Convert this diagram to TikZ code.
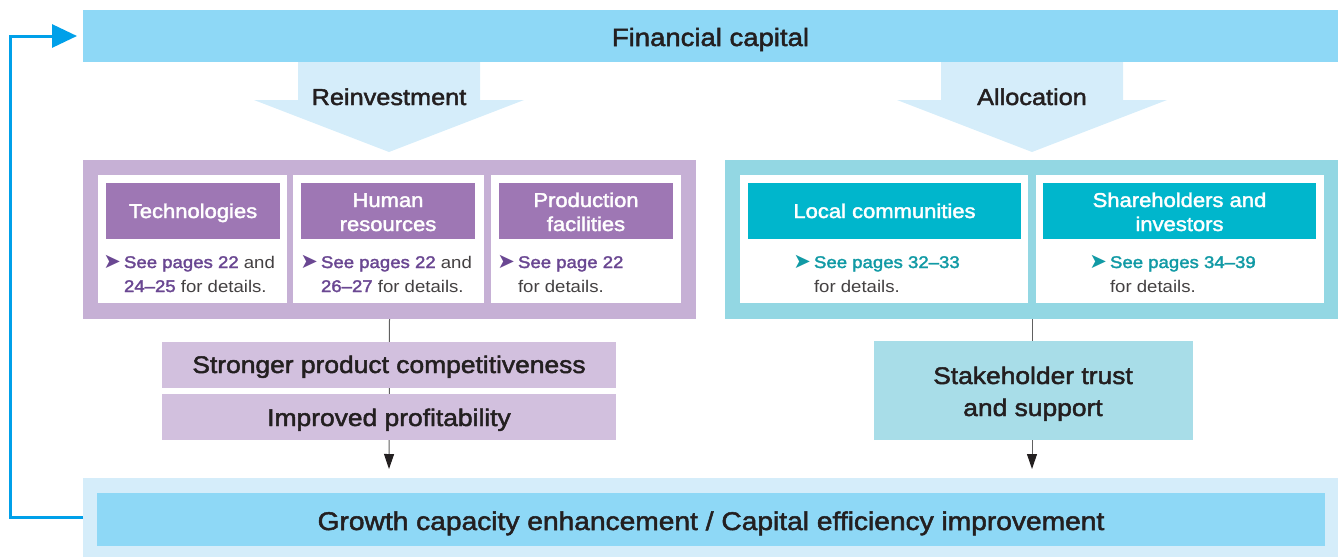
\documentclass[tikz,border=0pt]{standalone}
\usepackage{fontspec}
\setmainfont{Liberation Sans}[FakeStretch=1.1]
\newfontfamily\medf{Liberation Sans}[FakeStretch=1.1,FakeBold=2]
\newfontfamily\symf{DejaVu Sans}
\usetikzlibrary{arrows.meta}
\definecolor{barblue}{HTML}{8ED8F6}
\definecolor{paleblue}{HTML}{D5EDFA}
\definecolor{loopblue}{HTML}{00A0E9}
\definecolor{purpanel}{HTML}{C6B0D5}
\definecolor{purtitle}{HTML}{9E77B4}
\definecolor{purres}{HTML}{D2C0DE}
\definecolor{purtext}{HTML}{6A4792}
\definecolor{cyanpanel}{HTML}{93D7E3}
\definecolor{cyantitle}{HTML}{00B6CC}
\definecolor{cyanres}{HTML}{A8DDE8}
\definecolor{tealtext}{HTML}{119AA5}
\definecolor{ink}{HTML}{231F20}
\definecolor{connect}{HTML}{606060}
\newcommand{\chevP}{{\symf\fontsize{21}{21}\selectfont\color{purtext}➤}}
\newcommand{\chevT}{{\symf\fontsize{21}{21}\selectfont\color{tealtext}➤}}
\begin{document}
\begin{tikzpicture}[x=1pt,y=-1pt,
  blk/.style={inner sep=0pt,outer sep=0pt,draw=none},
  txt/.style={inner sep=0pt,outer sep=0pt,text=ink,anchor=base},
  big/.style={txt,font=\medf\fontsize{24}{28}\selectfont},
  ttl/.style={txt,text=white,font=\medf\fontsize{20}{24}\selectfont},
  det/.style={inner sep=0pt,outer sep=0pt,anchor=base west,text=ink!85,font=\fontsize{16.9}{20}\selectfont},
  conn/.style={draw=connect,line width=1pt,-{Triangle[length=15pt,width=10pt,color=ink]}},
  loop/.style={draw=loopblue,line width=3pt,-{Triangle[length=25pt,width=23pt]}}
]
\useasboundingbox (0,0) rectangle (1344,557);

% top bar
\node[blk,fill=barblue,minimum width=1255,minimum height=52] (fin) at (710.5,36) {};
\node[big,font=\medf\fontsize{25}{28}\selectfont] (fint) at (710.5,46) {Financial capital};

% big arrows
\fill[paleblue] (298,62) -- (480,62) -- (480,100) -- (524,100) -- (389,152) -- (254,100) -- (298,100) -- cycle;
\fill[paleblue] (941,62) -- (1123,62) -- (1123,100) -- (1167,100) -- (1032,152) -- (897,100) -- (941,100) -- cycle;
\node[big,font=\medf\fontsize{23}{28}\selectfont] (reinv) at (389,105) {Reinvestment};
\node[big,font=\medf\fontsize{23}{28}\selectfont] (alloc) at (1032,105) {Allocation};

% bottom band
\node[blk,fill=paleblue,minimum width=1255,minimum height=79] (band) at (710.5,517.5) {};
\node[blk,fill=barblue,minimum width=1228,minimum height=53] (grow) at (711,519.5) {};

% panels
\node[blk,fill=purpanel,minimum width=613,minimum height=159] (lpanel) at (389.5,239.5) {};
\node[blk,fill=cyanpanel,minimum width=613,minimum height=159] (rpanel) at (1031.5,239.5) {};

% connectors (behind result boxes)
\coordinate (lend) at (389,469);
\coordinate (rend) at (1032,469);
\draw[conn] (lpanel.south) -- (lend);
\draw[conn] (rpanel.south -| rend) -- (rend);

% white boxes left
\node[blk,fill=white,minimum width=189,minimum height=128] (w1) at (192.5,239) {};
\node[blk,fill=white,minimum width=191,minimum height=128] (w2) at (388.5,239) {};
\node[blk,fill=white,minimum width=190,minimum height=128] (w3) at (586,239) {};
% title boxes left
\node[blk,fill=purtitle,minimum width=174,minimum height=56] (t1) at (193,211) {};
\node[blk,fill=purtitle,minimum width=174,minimum height=56] (t2) at (388,211) {};
\node[blk,fill=purtitle,minimum width=174,minimum height=56] (t3) at (586,211) {};
\node[ttl] (t1a) at (193,218) {Technologies};
\node[ttl] (t2a) at (388,207) {Human};
\node[ttl] (t2b) at (388,231) {resources};
\node[ttl] (t3a) at (586,207) {Production};
\node[ttl] (t3b) at (586,231) {facilities};

% details left
\node[det] (d1a) at (124,268) {\llap{\chevP\hspace{3pt}}{\medf\color{purtext}See pages 22} and};
\node[det] (d1b) at (124,292) {{\medf\color{purtext}24–25} for details.};
\node[det] (d2a) at (321,268) {\llap{\chevP\hspace{3pt}}{\medf\color{purtext}See pages 22} and};
\node[det] (d2b) at (321,292) {{\medf\color{purtext}26–27} for details.};
\node[det] (d3a) at (518,268) {\llap{\chevP\hspace{3pt}}{\medf\color{purtext}See page 22}};
\node[det] (d3b) at (518,292) {for details.};

% white boxes right
\node[blk,fill=white,minimum width=288,minimum height=128] (w4) at (884,239) {};
\node[blk,fill=white,minimum width=288,minimum height=128] (w5) at (1180,239) {};
\node[blk,fill=cyantitle,minimum width=273,minimum height=56] (t4) at (884.5,211) {};
\node[blk,fill=cyantitle,minimum width=273,minimum height=56] (t5) at (1179.5,211) {};
\node[ttl] (t4a) at (884.5,218) {Local communities};
\node[ttl] (t5a) at (1179.5,207) {Shareholders and};
\node[ttl] (t5b) at (1179.5,231) {investors};
\node[det] (d4a) at (814,268) {\llap{\chevT\hspace{3pt}}{\medf\color{tealtext}See pages 32–33}};
\node[det] (d4b) at (814,292) {for details.};
\node[det] (d5a) at (1110,268) {\llap{\chevT\hspace{3pt}}{\medf\color{tealtext}See pages 34–39}};
\node[det] (d5b) at (1110,292) {for details.};

% result boxes
\node[blk,fill=purres,minimum width=454,minimum height=46] (r1) at (389,365) {};
\node[blk,fill=purres,minimum width=454,minimum height=46] (r2) at (389,417) {};
\node[big] (r1t) at (389,373) {Stronger product competitiveness};
\node[big] (r2t) at (389,426) {Improved profitability};
\node[blk,fill=cyanres,minimum width=319,minimum height=99] (r3) at (1033,390.5) {};
\node[big] (r3a) at (1033,384) {Stakeholder trust};
\node[big] (r3b) at (1033,416) {and support};

% growth text
\node[big,font=\medf\fontsize{25.6}{28}\selectfont] (growt) at (711,530) {Growth capacity enhancement / Capital efficiency improvement};

% feedback loop
\draw[loop,shorten >=6pt] (band.west) -- ++(-72.5,0) |- (fin.west);
\end{tikzpicture}
\end{document}
